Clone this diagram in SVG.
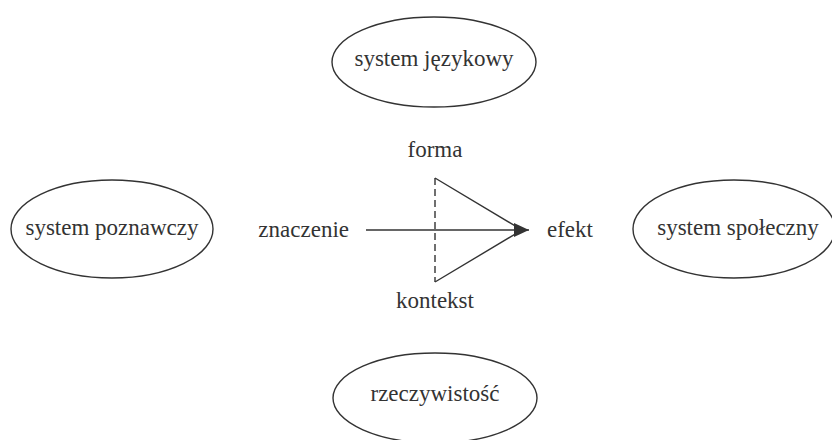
<svg xmlns="http://www.w3.org/2000/svg" width="832" height="440" viewBox="0 0 832 440">
<defs>
<marker id="ah" markerWidth="16" markerHeight="14" refX="15" refY="7" orient="auto" markerUnits="userSpaceOnUse">
<path d="M0,0 L15,7 L0,14 Z" fill="#333"/>
</marker>
</defs>
<g font-family="Liberation Serif, serif" font-size="23" fill="#333" text-anchor="middle">
<g id="n-jezykowy"><ellipse cx="434" cy="62" rx="102" ry="45" fill="none" stroke="#333" stroke-width="1.4"/><text x="434" y="66">system językowy</text></g>
<g id="n-poznawczy"><ellipse cx="112" cy="229" rx="101" ry="49" fill="none" stroke="#333" stroke-width="1.4"/><text x="112" y="235">system poznawczy</text></g>
<g id="n-spoleczny"><ellipse cx="734" cy="229" rx="101" ry="49" fill="none" stroke="#333" stroke-width="1.4"/><text x="738" y="235">system społeczny</text></g>
<g id="n-rzeczywistosc"><ellipse cx="435" cy="398" rx="102" ry="45" fill="none" stroke="#333" stroke-width="1.4"/><text x="435" y="401">rzeczywistość</text></g>
<g id="labels">
<text x="435" y="157">forma</text>
<text x="435" y="308">kontekst</text>
<text text-anchor="end" x="349" y="237">znaczenie</text>
<text text-anchor="start" x="547" y="237">efekt</text>
</g>
</g>
<g id="connectors" stroke="#333" stroke-width="1.4" fill="none">
<line x1="435" y1="178" x2="435" y2="282" stroke-dasharray="7,4"/>
<polyline points="435,178 522,230 435,282"/>
<line x1="366" y1="230" x2="529" y2="230" marker-end="url(#ah)"/>
</g>
</svg>
